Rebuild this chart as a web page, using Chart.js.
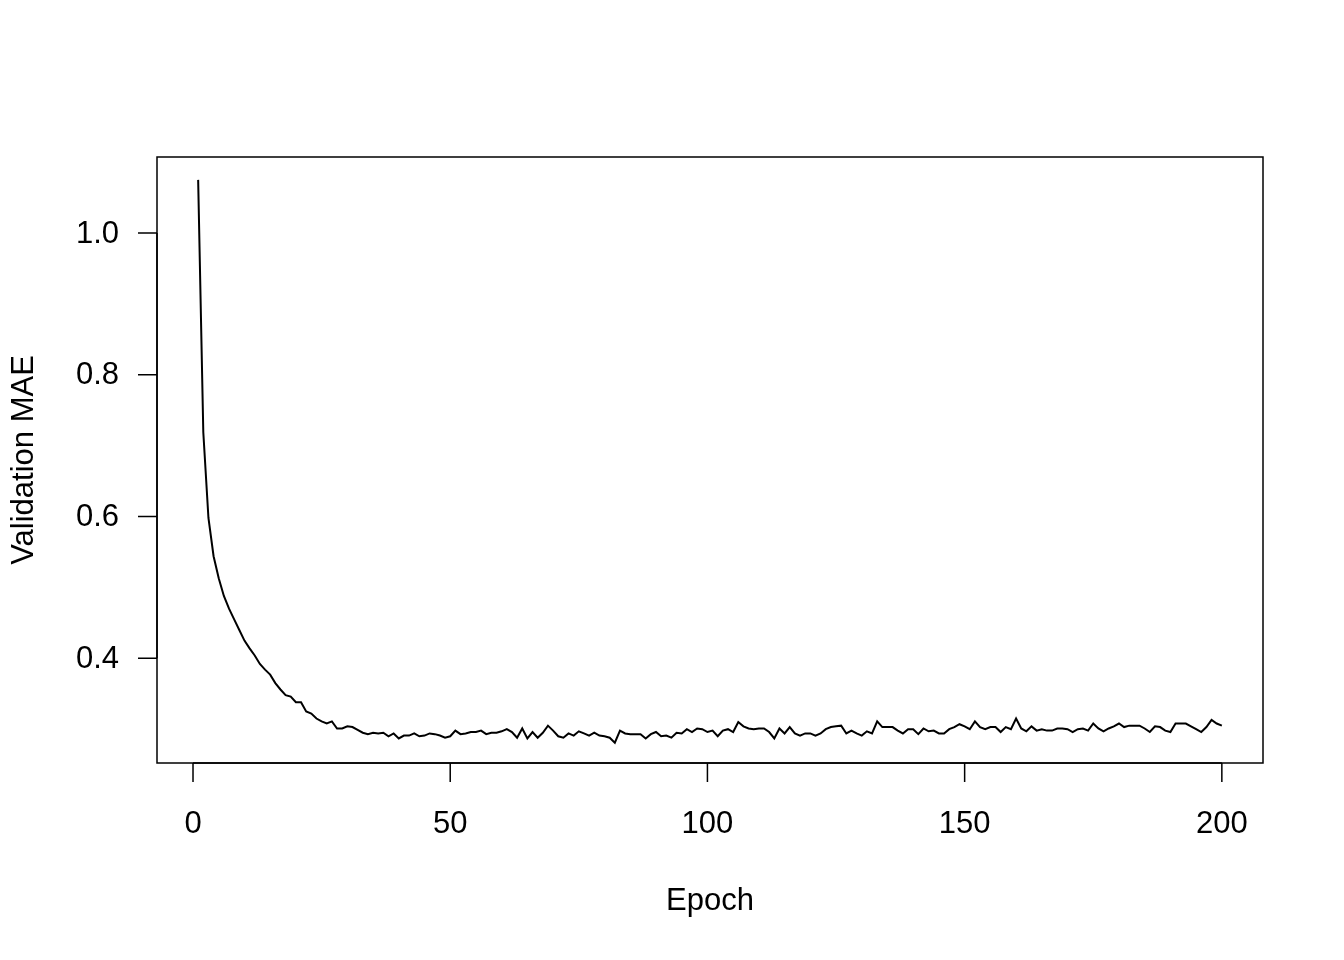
<!DOCTYPE html>
<html>
<head>
<meta charset="utf-8">
<script src="https://cdn.jsdelivr.net/npm/chart.js@4"></script>
<style>
  html, body { margin: 0; padding: 0; background: #fff; }
  #wrap { width: 1344px; height: 960px; }
</style>
</head>
<body>
<div id="wrap"><canvas id="chart" width="1344" height="960"></canvas></div>
<script>
// validation MAE per epoch
const epochs = Array.from({ length: 200 }, (_, i) => i + 1);
const valMae = [
    1.075, 0.719, 0.598, 0.544, 0.513, 0.488, 0.470, 0.455, 0.440, 0.425,
    0.414, 0.404, 0.392, 0.384, 0.377, 0.365, 0.356, 0.348, 0.346, 0.338,
    0.338, 0.325, 0.322, 0.315, 0.311, 0.308, 0.311, 0.301, 0.301, 0.304,
    0.303, 0.299, 0.295, 0.293, 0.295, 0.294, 0.295, 0.290, 0.294, 0.287,
    0.291, 0.291, 0.294, 0.290, 0.291, 0.294, 0.293, 0.291, 0.288, 0.290,
    0.298, 0.293, 0.294, 0.296, 0.296, 0.298, 0.293, 0.295, 0.295, 0.297,
    0.300, 0.296, 0.288, 0.301, 0.287, 0.296, 0.288, 0.295, 0.305, 0.298,
    0.290, 0.288, 0.294, 0.291, 0.297, 0.294, 0.291, 0.295, 0.291, 0.290,
    0.288, 0.281, 0.298, 0.294, 0.293, 0.293, 0.293, 0.287, 0.293, 0.296,
    0.290, 0.291, 0.288, 0.295, 0.294, 0.300, 0.296, 0.301, 0.300, 0.296,
    0.298, 0.290, 0.298, 0.300, 0.296, 0.310, 0.304, 0.301, 0.300, 0.301,
    0.301, 0.296, 0.287, 0.301, 0.294, 0.303, 0.294, 0.291, 0.294, 0.294,
    0.291, 0.294, 0.300, 0.303, 0.304, 0.305, 0.294, 0.298, 0.294, 0.291,
    0.297, 0.294, 0.311, 0.303, 0.303, 0.303, 0.298, 0.294, 0.300, 0.300,
    0.293, 0.301, 0.297, 0.298, 0.294, 0.294, 0.300, 0.303, 0.307, 0.304,
    0.300, 0.311, 0.303, 0.300, 0.303, 0.303, 0.296, 0.303, 0.300, 0.315,
    0.301, 0.297, 0.304, 0.298, 0.300, 0.298, 0.298, 0.301, 0.301, 0.300,
    0.296, 0.300, 0.301, 0.298, 0.308, 0.301, 0.297, 0.301, 0.304, 0.308,
    0.303, 0.305, 0.305, 0.305, 0.301, 0.296, 0.304, 0.303, 0.298, 0.296,
    0.308, 0.308, 0.308, 0.304, 0.300, 0.296, 0.303, 0.313, 0.308, 0.305
];
const xTicks = [0, 50, 100, 150, 200];
const yTicks = [0.4, 0.6, 0.8, 1.0];
const xTitle = 'Epoch';
const yTitle = 'Validation MAE';

const FONT = '31px "Liberation Sans", Arial, sans-serif';

// R style box, ticks and labels, drawn through the chart scales
const rAxes = {
    id: 'rAxes',
    afterDraw(chart) {
        const ctx = chart.ctx;
        const a = chart.chartArea;
        const xs = chart.scales.x;
        const ys = chart.scales.y;
        ctx.save();
        ctx.strokeStyle = '#000';
        ctx.fillStyle = '#000';
        ctx.lineWidth = 1.5;
        ctx.strokeRect(a.left, a.top, a.right - a.left, a.bottom - a.top);

        ctx.font = FONT;
        // x axis
        ctx.beginPath();
        ctx.moveTo(xs.getPixelForValue(xTicks[0]), a.bottom);
        ctx.lineTo(xs.getPixelForValue(xTicks[xTicks.length - 1]), a.bottom);
        xTicks.forEach(t => {
            const px = xs.getPixelForValue(t);
            ctx.moveTo(px, a.bottom);
            ctx.lineTo(px, a.bottom + 19);
        });
        ctx.stroke();
        ctx.textAlign = 'center';
        ctx.textBaseline = 'middle';
        xTicks.forEach(t => {
            ctx.fillText(String(t), xs.getPixelForValue(t), a.bottom + 61);
        });

        // y axis
        ctx.beginPath();
        ctx.moveTo(a.left, ys.getPixelForValue(yTicks[0]));
        ctx.lineTo(a.left, ys.getPixelForValue(yTicks[yTicks.length - 1]));
        yTicks.forEach(t => {
            const py = ys.getPixelForValue(t);
            ctx.moveTo(a.left, py);
            ctx.lineTo(a.left - 19, py);
        });
        ctx.stroke();
        ctx.textAlign = 'right';
        yTicks.forEach(t => {
            ctx.fillText(t.toFixed(1), a.left - 38, ys.getPixelForValue(t) + 1);
        });

        // titles
        ctx.textAlign = 'center';
        ctx.fillText(xTitle, (a.left + a.right) / 2, a.bottom + 138);
        ctx.translate(24, (a.top + a.bottom) / 2);
        ctx.rotate(-Math.PI / 2);
        ctx.fillText(yTitle, 0, 0);
        ctx.restore();
    }
};

new Chart(document.getElementById('chart'), {
    type: 'line',
    data: {
        labels: epochs,
        datasets: [{
            data: epochs.map((e, i) => ({ x: e, y: valMae[i] })),
            borderColor: '#000',
            borderWidth: 2,
            pointRadius: 0,
            fill: false,
            tension: 0
        }]
    },
    options: {
        responsive: false,
        animation: false,
        events: [],
        layout: { padding: { left: 157, top: 157, right: 81, bottom: 197 } },
        plugins: { legend: { display: false }, tooltip: { enabled: false } },
        scales: {
            x: { type: 'linear', min: -7, max: 208, display: false },
            y: { type: 'linear', min: 0.2523, max: 1.1073, display: false }
        }
    },
    plugins: [rAxes]
});
</script>
</body>
</html>
